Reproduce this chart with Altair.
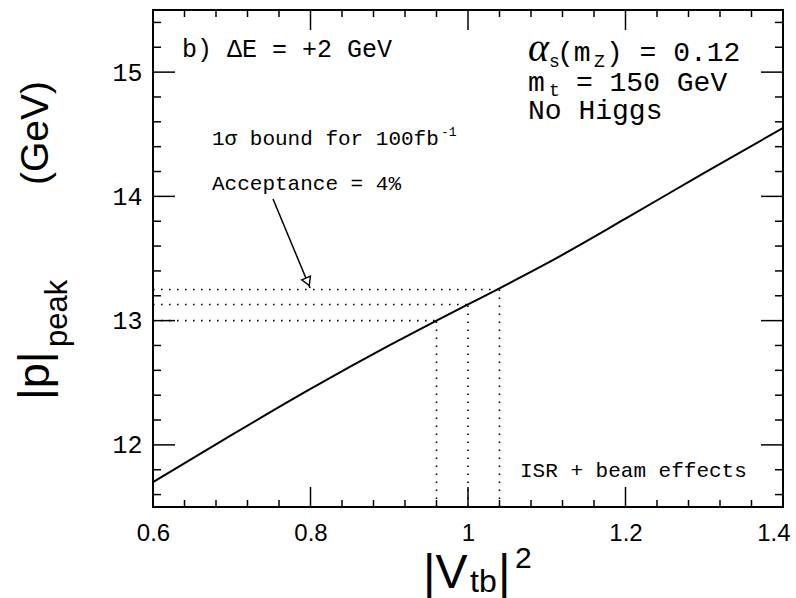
import altair as alt
import pandas as pd
import numpy as np

# ---- data ----
vtb2 = [0.6, 0.7, 0.8, 0.9, 0.96, 1.0, 1.04, 1.1, 1.2, 1.3, 1.4]
ppeak = [11.70, 12.08, 12.45, 12.80, 13.00, 13.13, 13.26, 13.46, 13.82, 14.19, 14.55]

bound_x = [0.96, 1.00, 1.04]
bound_y = [13.00, 13.13, 13.25]

x_major = [0.6, 0.8, 1.0, 1.2, 1.4]
y_major = [12, 13, 14, 15]

x_min, x_max = 0.6, 1.4
y_min, y_max = 11.5, 15.5

arrow_x = [0.7524, 0.7994]
arrow_y = [13.979, 13.263]

W, H = 630, 497

x_minor = [round(v, 2) for v in np.arange(0.64, 1.4, 0.04) if round(v, 2) not in [0.8, 1.0, 1.2]]
y_minor = [round(v, 1) for v in np.arange(11.6, 15.41, 0.2) if round(v, 1) not in [12.0, 13.0, 14.0, 15.0]]

xs = alt.Scale(domain=[x_min, x_max], nice=False, zero=False)
ys = alt.Scale(domain=[y_min, y_max], nice=False, zero=False)

label_expr = "datum.value == 1 ? '1' : format(datum.value, '.1f')"
xaxis = alt.Axis(values=x_major, ticks=False, domain=False, grid=False, title=None,
                 labelFont="Liberation Sans", labelFontSize=24, labelColor="black",
                 labelPadding=14, labelExpr=label_expr, labelFlush=False,
                 labelAlign={"condition": {"test": "datum.value >= 1.39", "value": "right"},
                             "value": "center"},
                 labelOffset={"condition": {"test": "datum.value >= 1.39", "value": 7},
                              "value": 0})
yaxis = alt.Axis(values=y_major, ticks=False, domain=False, grid=False, title=None,
                 labelFont="Liberation Mono", labelFontSize=25, labelColor="black",
                 labelPadding=11, format="d")

def X(f="x"):
    return alt.X(f"{f}:Q", scale=xs, axis=xaxis)

def Y(f="y"):
    return alt.Y(f"{f}:Q", scale=ys, axis=yaxis)

curve_df = pd.DataFrame({"x": vtb2, "y": ppeak})
curve = alt.Chart(curve_df).mark_line(color="black", strokeWidth=2, interpolate="monotone").encode(
    x=X("x"), y=Y("y")
)

# dotted bound lines
h_df = pd.DataFrame({"x": [x_min] * 3, "x2": bound_x, "y": bound_y})
v_df = pd.DataFrame({"x": bound_x, "y": [y_min] * 3, "y2": bound_y})
dot = dict(color="black", strokeWidth=1.6, strokeDash=[1.6, 6.4])
hlines = alt.Chart(h_df).mark_rule(**dot).encode(x=X("x"), x2="x2:Q", y=Y("y"))
vlines = alt.Chart(v_df).mark_rule(**dot).encode(x=X("x"), y=Y("y"), y2="y2:Q")

# inward ticks on all four sides
def xticks(vals, length):
    d = pd.DataFrame({"x": vals})
    b = alt.Chart(d).mark_rule(color="black", strokeWidth=1.5).encode(
        x=X("x"), y=alt.value(H), y2=alt.value(H - length))
    t = alt.Chart(d).mark_rule(color="black", strokeWidth=1.5).encode(
        x=X("x"), y=alt.value(0), y2=alt.value(length))
    return [b, t]

def yticks(vals, length):
    d = pd.DataFrame({"y": vals})
    l = alt.Chart(d).mark_rule(color="black", strokeWidth=1.5).encode(
        y=Y("y"), x=alt.value(0), x2=alt.value(length))
    r = alt.Chart(d).mark_rule(color="black", strokeWidth=1.5).encode(
        y=Y("y"), x=alt.value(W), x2=alt.value(W - length))
    return [l, r]

ticks = xticks(x_major, 20) + xticks(x_minor, 7) + yticks(y_major, 22) + yticks(y_minor, 8)

# arrow
arr_df = pd.DataFrame({"x": arrow_x, "y": arrow_y, "o": [0, 1]})
arrow = alt.Chart(arr_df).mark_line(color="black", strokeWidth=1.5).encode(
    x=X("x"), y=Y("y"), order="o:Q")
head_df = pd.DataFrame({"x": [arrow_x[1] - 0.003], "y": [arrow_y[1] + 0.050]})
head = alt.Chart(head_df).mark_point(shape="triangle-down", filled=True, fill="white",
                                     stroke="black", strokeWidth=1.4, size=90, angle=337,
                                     opacity=1).encode(x=X("x"), y=Y("y"))

# annotation texts (data coordinates)
def txt(items, font, size, style="normal", align="left", baseline="alphabetic"):
    d = pd.DataFrame(items, columns=["x", "y", "t"])
    return alt.Chart(d).mark_text(font=font, fontSize=size, fontStyle=style, align=align,
                                  baseline=baseline, color="black").encode(
        x=X("x"), y=Y("y"), text="t:N")

mono = "Liberation Mono"
annots = [
    txt([(0.6368, 15.122, "b) ΔE = +2 GeV")], mono, 25),
    txt([(1.0762, 15.090, "α")], "Liberation Serif", 40, style="italic"),
    txt([(1.1029, 15.040, "s"), (1.1600, 15.040, "Z"), (1.1029, 14.805, "t")], mono, 18),
    txt([(1.1130, 15.090, "(m"), (1.1752, 15.090, ") = 0.12"),
         (1.0762, 14.845, "m"), (1.1371, 14.845, "= 150 GeV"),
         (1.0762, 14.625, "No Higgs")], mono, 28),
    txt([(0.6749, 14.413, "1σ bound for 100fb"), (0.6749, 14.051, "Acceptance = 4%"),
         (1.066, 11.741, "ISR + beam effects")], mono, 21),
    txt([(0.9657, 14.486, "-1")], mono, 13),
]

# axis titles built from pieces (pixel positions relative to plot area)
one = pd.DataFrame({"a": [0]})
def ptxt(s, px, py, size, angle=0):
    return alt.Chart(one).mark_text(text=s, font="Liberation Sans", fontSize=size, angle=angle,
                                    align="left", baseline="alphabetic", color="black").encode(
        x=alt.value(px), y=alt.value(py))

titles = [
    ptxt("|p|", -104, 390, 45, 270),
    ptxt("peak", -86, 337, 31, 270),
    ptxt("(GeV)", -105, 175, 39, 270),
    ptxt("|V", 270, 578, 48),
    ptxt("tb", 317, 582, 32),
    ptxt("|", 345, 578, 48),
    ptxt("2", 362, 558, 30),
]

chart = alt.layer(curve, hlines, vlines, *ticks, arrow, head, *annots, *titles).properties(
    width=W, height=H,
    autosize=alt.AutoSizeParams(type="none"),
    padding={"left": 153, "top": 10, "right": 13, "bottom": 91},
    background="white",
).configure_view(stroke="black", strokeWidth=2)

chart.save("out.html", embed_options={"renderer": "svg", "actions": False})
